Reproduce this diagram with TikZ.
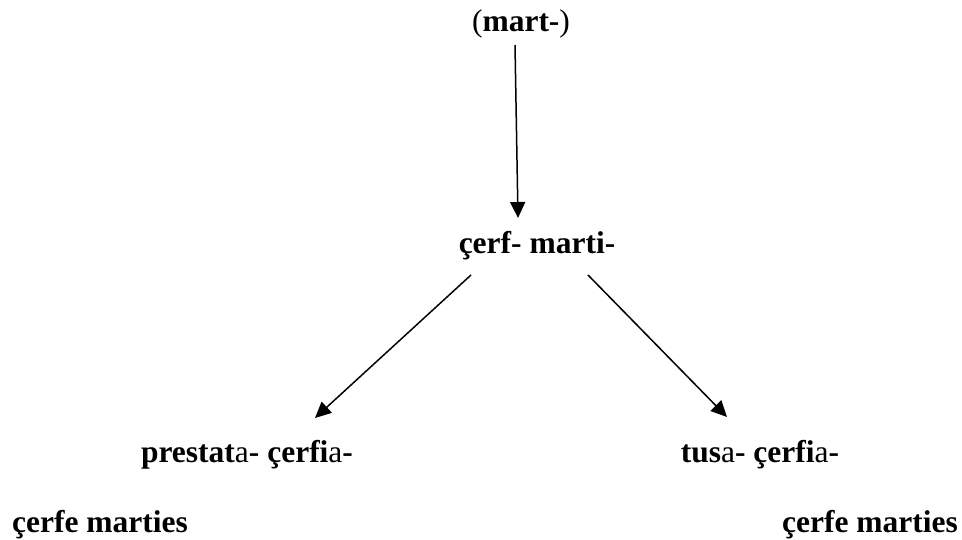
\documentclass[tikz,border=0pt]{standalone}
\usepackage{fontspec}
\setmainfont{Liberation Serif}
\usetikzlibrary{arrows.meta}
\begin{document}
\begin{tikzpicture}[x=1pt,y=-1pt,
  lbl/.style={inner sep=0pt,anchor=base,font=\fontsize{31.5}{36}\selectfont\bfseries},
  conn/.style={line width=1.5pt,-{Triangle[length=16pt,width=15pt]}}]
\useasboundingbox (0,0) rectangle (962,540);
\node[lbl] (top) at (521,32) {\mdseries(\bfseries mart-\mdseries)};
\node[lbl] (mid) at (537,254) {çerf- marti-};
\node[lbl] (left) at (247,462) {prestat\mdseries a\bfseries- çerfi\mdseries a\bfseries-};
\node[lbl] (right) at (760,462) {tus\mdseries a\bfseries- çerfi\mdseries a\bfseries-};
\node[lbl] (leftb) at (100,532) {çerfe marties};
\node[lbl] (rightb) at (870,532) {çerfe marties};
\coordinate (a1s) at (515,45);
\coordinate (a1e) at (518,218);
\coordinate (a2s) at (471,275);
\coordinate (a2e) at (315,418);
\coordinate (a3s) at (588,275);
\coordinate (a3e) at (727,417);
\draw[conn] (a1s) -- (a1e);
\draw[conn] (a2s) -- (a2e);
\draw[conn] (a3s) -- (a3e);
\end{tikzpicture}
\end{document}
